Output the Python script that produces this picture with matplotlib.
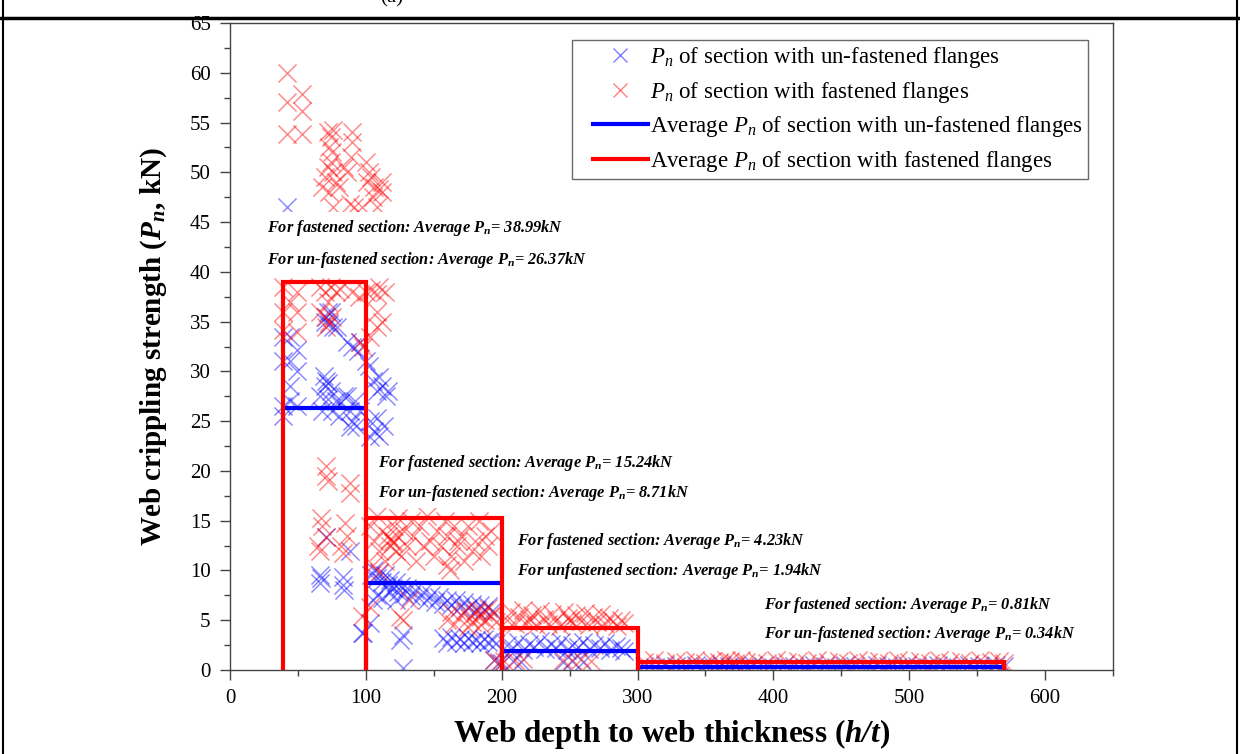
import matplotlib
matplotlib.use("Agg")
import matplotlib.pyplot as plt
from matplotlib.lines import Line2D
from matplotlib.legend_handler import HandlerLine2D
from matplotlib.ticker import MultipleLocator

plt.rcParams["font.family"] = ["Liberation Serif", "DejaVu Serif"]
plt.rcParams["mathtext.fontset"] = "custom"
plt.rcParams["mathtext.rm"] = "Liberation Serif"
plt.rcParams["mathtext.it"] = "Liberation Serif:italic"
plt.rcParams["mathtext.bf"] = "Liberation Serif:bold"
plt.rcParams["mathtext.bfit"] = "Liberation Serif:italic:bold"

# ---- test results: web slenderness h/t vs. web crippling strength Pn (kN) ----
unfast_x = [42,
            39, 44, 49, 44, 39, 49, 44, 39, 49, 39, 44,
            71, 72, 70, 73, 76, 79, 74, 86, 90, 94, 96, 100, 102,
            71, 70, 72, 69, 74, 66, 72, 78, 81, 84, 68, 75, 80, 86, 88, 90, 93, 96, 92, 88,
            105, 108, 112, 115, 110, 116, 103, 106, 110, 113, 108, 103,
            71, 88, 66, 66, 67, 83, 83, 84, 97, 103, 125, 127, 127.5,
            104, 106, 108, 110, 112, 114, 116, 118, 120, 122, 124, 126, 128, 130, 133, 136,
            139, 142, 145, 148, 151, 154, 157, 160, 163, 166, 169, 172, 175, 178, 181, 184,
            187, 190, 193, 105, 108, 112, 118, 122,
            157, 160, 163, 166, 169, 172, 175, 178, 181, 184, 187, 190, 193, 196, 98, 194, 198,
            204, 208, 212, 216, 220, 224, 228, 232, 236, 240, 244, 248, 252, 256, 260, 264,
            268, 272, 276, 280, 284, 288, 290, 200, 208, 214, 245, 252, 260,
            305, 313, 320, 328, 336, 343, 350, 356, 362, 367, 372, 378, 385, 392, 400, 408,
            415, 423, 430, 438, 446, 453, 460, 468, 476, 484, 491, 498, 506, 514, 521, 528,
            536, 544, 551, 558, 564, 570]
unfast_y = [46.5,
            33.5, 33.5, 32.1, 31.0, 31.0, 30.0, 28.5, 26.5, 26.5, 25.5, 27.0,
            35.5, 36.0, 35.0, 34.8, 34.5, 34.5, 36.0, 33.0, 32.5, 32.0, 33.0, 31.0, 30.5,
            29.0, 28.5, 28.8, 29.5, 28.0, 27.5, 27.2, 27.0, 26.8, 27.5, 26.0, 26.0, 25.5, 27.5, 26.0, 25.0, 24.5, 26.0, 27.0, 24.4,
            29.0, 28.0, 28.5, 27.5, 29.4, 28.0, 25.0, 24.0, 23.5, 24.5, 25.3, 23.4,
            13.4, 12.0, 9.5, 8.7, 9.2, 9.3, 8.5, 8.0, 3.7, 4.7, 3.0, 3.5, 0.2,
            9.5, 10.0, 9.2, 9.7, 8.8, 9.5, 8.5, 9.0, 8.2, 8.8, 7.8, 8.4, 7.6, 8.2, 7.4, 8.0,
            7.2, 7.8, 7.0, 7.5, 6.8, 7.3, 6.6, 7.0, 6.5, 7.0, 6.3, 6.8, 6.2, 6.6, 6.0, 6.5,
            6.0, 6.4, 5.9, 7.0, 7.5, 7.2, 7.8, 7.0,
            3.2, 2.7, 3.3, 2.8, 3.1, 2.7, 3.2, 2.8, 3.0, 2.7, 3.1, 2.8, 3.0, 2.7, 3.7, 1.0, 0.7,
            2.5, 2.2, 2.8, 2.0, 2.6, 2.3, 2.9, 2.1, 2.6, 2.2, 2.8, 2.0, 2.5, 2.3, 2.8, 2.1,
            2.5, 2.2, 2.7, 2.0, 2.4, 2.2, 1.9, 0.7, 0.9, 0.8, 0.8, 0.9, 0.8,
            0.4, 0.3, 0.5, 0.4, 0.3, 0.5, 0.4, 0.3, 0.5, 0.4, 0.4, 0.3, 0.5, 0.4, 0.3, 0.5,
            0.4, 0.3, 0.5, 0.4, 0.3, 0.5, 0.4, 0.3, 0.5, 0.4, 0.3, 0.5, 0.4, 0.3, 0.5, 0.4,
            0.3, 0.5, 0.4, 0.3, 0.5, 0.4]

fast_x = [42, 42, 53, 53, 42, 53,
          72, 74, 76, 73, 75, 74, 72, 76, 70, 78, 68, 73, 80, 84, 86, 90, 90, 89,
          100, 102, 104, 101, 106, 110, 112, 112, 105,
          76, 88, 91, 97, 108,
          39, 49, 39, 49, 39, 49, 44,
          66, 70, 74, 78, 81, 72, 70, 73, 75, 71, 66,
          90, 95, 100, 104, 108, 110, 114, 108, 108, 112, 96, 98, 103,
          71, 71, 72, 88, 88, 67, 68, 85, 86, 65, 66, 82, 83, 71,
          97, 103, 125, 132, 127,
          103, 106, 108, 110, 112, 114, 116, 118, 120, 121, 122, 124, 126, 128, 130, 133,
          135, 137, 140, 142, 145, 147, 150, 152, 155, 158, 160, 162, 163, 165, 167, 170,
          172, 175, 178, 180, 183, 185, 188, 190, 192, 118, 120, 122, 168, 160, 105, 110,
          160, 165, 170, 173, 176, 178, 180, 182, 184, 186, 188, 190, 192, 194, 196, 185,
          175, 163, 194, 198,
          204, 207, 210, 213, 216, 219, 222, 225, 228, 231, 234, 237, 240, 243, 246, 249,
          252, 255, 258, 261, 264, 267, 270, 273, 276, 279, 282, 285, 288, 290, 220, 250,
          202, 210, 216, 245, 252, 258, 266,
          305, 312, 320, 328, 335, 342, 350, 355, 360, 365, 368, 372, 376, 380, 388, 395,
          402, 410, 418, 425, 432, 440, 448, 455, 462, 470, 478, 485, 492, 500, 508, 515,
          522, 530, 538, 545, 552, 560, 566, 570]
fast_y = [60.0, 57.1, 57.9, 56.2, 53.8, 53.8,
          54.0, 53.5, 54.2, 52.5, 52.0, 51.0, 50.5, 50.0, 49.5, 49.0, 48.5, 48.0, 48.5, 50.5, 50.0, 54.0, 53.0, 51.5,
          51.0, 50.0, 49.5, 49.0, 48.5, 48.3, 49.0, 48.0, 47.5,
          46.5, 46.8, 46.5, 46.5, 46.5,
          38.5, 38.0, 36.0, 36.0, 34.2, 34.0, 37.0,
          38.5, 38.0, 38.5, 38.0, 38.3, 37.0, 35.5, 35.0, 35.5, 34.5, 36.0,
          38.0, 37.5, 38.0, 38.2, 37.8, 38.5, 38.0, 36.0, 34.5, 35.0, 33.0, 32.5, 33.5,
          20.5, 19.5, 19.0, 18.8, 17.8, 15.3, 14.5, 14.8, 13.5, 12.5, 12.0, 12.5, 11.8, 13.4,
          5.4, 6.3, 5.3, 7.0, 5.0,
          14.5, 13.0, 15.5, 12.0, 14.0, 11.0, 13.5, 12.5, 13.0, 14.5, 12.0, 15.3, 11.5, 14.0, 12.5, 15.0,
          13.5, 11.0, 14.5, 12.5, 15.5, 13.0, 11.5, 14.0, 12.5, 15.0, 13.5, 10.0, 11.5, 14.5, 12.5, 13.5,
          11.0, 14.5, 12.0, 13.0, 15.0, 11.5, 13.5, 12.5, 14.0, 13.2, 12.8, 13.6, 13.0, 10.5, 10.5, 9.8,
          5.0, 4.6, 5.5, 6.0, 5.2, 4.8, 5.7, 6.0, 5.3, 5.8, 5.0, 6.2, 5.4, 5.8, 4.8, 4.5,
          4.3, 5.8, 1.0, 0.8,
          5.0, 5.8, 4.6, 5.3, 6.0, 4.8, 5.5, 4.5, 5.9, 5.1, 4.6, 5.6, 5.0, 4.4, 5.8, 5.2,
          4.7, 5.5, 4.9, 5.7, 4.5, 5.3, 4.8, 5.6, 4.6, 5.2, 4.9, 4.4, 5.0, 4.7, 5.1, 5.0,
          0.9, 1.0, 1.1, 1.0, 1.0, 1.1, 0.9,
          0.8, 1.0, 0.7, 0.9, 0.8, 1.0, 0.7, 0.9, 0.8, 1.0, 0.9, 0.7, 1.0, 0.8, 0.9, 0.7,
          1.0, 0.8, 0.9, 0.7, 1.0, 0.8, 0.9, 0.7, 1.0, 0.8, 0.9, 0.7, 1.0, 0.8, 0.9, 0.7,
          1.0, 0.8, 0.9, 0.7, 1.0, 0.8, 0.9, 0.7]

# ---- group boundaries in h/t and group averages (kN) ----
bin_edges = [39, 100, 200, 300, 570]
avg_fastened = [38.99, 15.24, 4.23, 0.81]
avg_unfastened = [26.37, 8.71, 1.94, 0.34]
unfastened_words = ["un-fastened", "un-fastened", "unfastened", "un-fastened"]
note_x = [27, 109, 211, 393]
note_y_top = [44.4, 20.8, 13.0, 6.5]
note_y_bottom = [41.2, 17.8, 9.9, 3.6]

fig = plt.figure(figsize=(12.4, 7.54), dpi=100)
ax = fig.add_axes([0.1855, 0.1114, 0.7121, 0.8581])

ax.scatter(unfast_x, unfast_y, marker="x", s=170, color="#0000ff", alpha=0.45,
           linewidths=1.1, zorder=2)
ax.scatter(fast_x, fast_y, marker="x", s=170, color="#ff0000", alpha=0.45,
           linewidths=1.1, zorder=2)

# average levels: fastened as open-bottom boxes, un-fastened as flat segments
for i in range(len(avg_fastened)):
    x0, x1 = bin_edges[i], bin_edges[i + 1]
    ax.plot([x0, x1], [avg_unfastened[i]] * 2, color="#0000ff", lw=3, zorder=3,
            solid_capstyle="butt")
    ax.plot([x0, x0, x1, x1], [0, avg_fastened[i], avg_fastened[i], 0],
            color="#ff0000", lw=3, zorder=4, solid_joinstyle="miter")

note_font = dict(fontsize=11.8, fontweight="bold", fontstyle="italic")
box = dict(facecolor="white", edgecolor="none", pad=4)
for i in range(len(avg_fastened)):
    ax.text(note_x[i], note_y_top[i],
            r"For fastened section: Average $\mathbfit{P}_{\mathbfit{n}}$= %.2fkN" % avg_fastened[i],
            va="center", ha="left", zorder=5, bbox=box, **note_font)
    ax.text(note_x[i], note_y_bottom[i],
            r"For %s section: Average $\mathbfit{P}_{\mathbfit{n}}$= %.2fkN"
            % (unfastened_words[i], avg_unfastened[i]),
            va="center", ha="left", zorder=5, bbox=box, **note_font)

ax.set_xlim(0, 650)
ax.set_ylim(0, 65)
ax.xaxis.set_major_locator(MultipleLocator(100))
ax.xaxis.set_minor_locator(MultipleLocator(50))
ax.yaxis.set_major_locator(MultipleLocator(5))
ax.yaxis.set_minor_locator(MultipleLocator(2.5))
ax.tick_params(which="major", direction="out", length=7, width=1, labelsize=15,
               color="#444444", top=False, right=False)
ax.tick_params(axis="y", which="major", pad=7)
ax.tick_params(axis="x", which="major", pad=7)
ax.tick_params(which="minor", direction="out", length=4, width=1, color="#444444",
               top=False, right=False)
for side in ["left", "right", "top", "bottom"]:
    ax.spines[side].set_color("#444444")
    ax.spines[side].set_linewidth(1.0)

ax.set_xlabel(r"Web depth to web thickness ($\mathbfit{h/t}$)", fontsize=22.5,
              fontweight="bold", labelpad=6)
ax.set_ylabel(r"Web crippling strength ($\mathbfit{P}_{\mathbfit{n}}$, kN)", fontsize=21,
              fontweight="bold", labelpad=15)

handles = [
    Line2D([], [], ls="none", marker="x", markersize=10, color="#0000ff", alpha=0.5),
    Line2D([], [], ls="none", marker="x", markersize=10, color="#ff0000", alpha=0.5),
    Line2D([], [], color="#0000ff", lw=3),
    Line2D([], [], color="#ff0000", lw=3),
]
labels = [
    r"$P_n$ of section with un-fastened flanges",
    r"$P_n$ of section with fastened flanges",
    r"Average $P_n$ of section with un-fastened flanges",
    r"Average $P_n$ of section with fastened flanges",
]
leg = ax.legend(handles, labels, loc="upper right", bbox_to_anchor=(0.9717, 0.9737),
                borderaxespad=0, fontsize=16.5, frameon=True, fancybox=False,
                edgecolor="#444444", handlelength=3.1, handletextpad=0.1,
                labelspacing=0.42, borderpad=0.22,
                handler_map={Line2D: HandlerLine2D(xpad=0.7)})
leg.get_frame().set_linewidth(1.0)
leg.set_zorder(6)

# page frame around the figure
fig.add_artist(Line2D([0, 1], [0.976, 0.976], color="black", lw=2.5,
                      transform=fig.transFigure))
fig.add_artist(Line2D([0.0025, 0.0025], [0, 1], color="black", lw=1.5,
                      transform=fig.transFigure))
fig.add_artist(Line2D([0.9975, 0.9975], [0, 1], color="black", lw=1.5,
                      transform=fig.transFigure))
fig.text(392 / 1240, 1 - 2 / 754, "(a)", fontsize=15, ha="center", va="baseline")

fig.savefig("out.png", dpi=100, facecolor="white")
